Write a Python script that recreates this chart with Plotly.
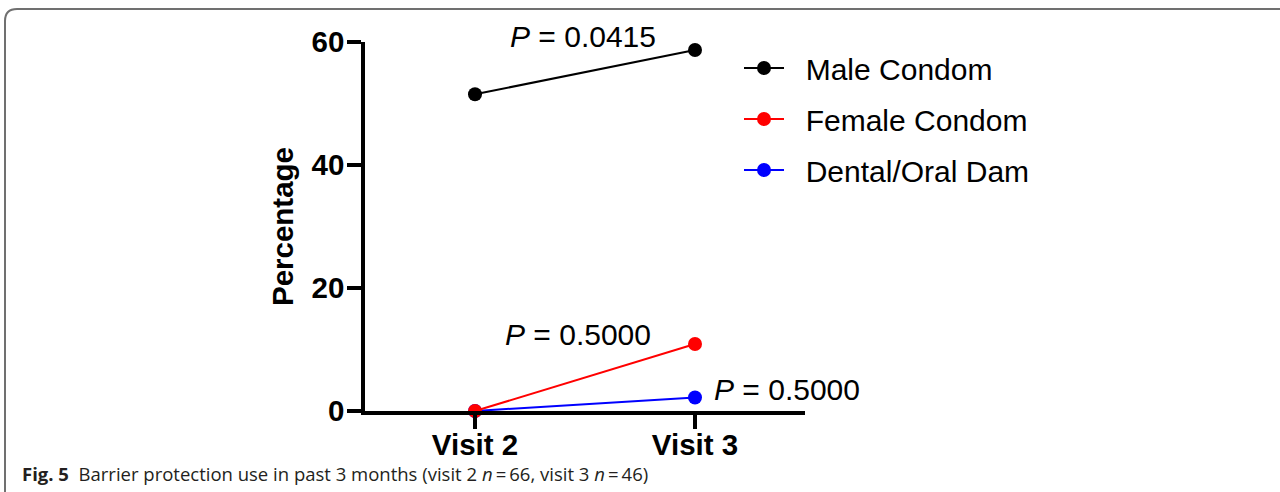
import plotly.graph_objects as go

visits = ["Visit 2", "Visit 3"]
male_condom = [51.5, 58.7]
female_condom = [0.0, 10.9]
dental_dam = [0.0, 2.2]
y_ticks = [0, 20, 40, 60]
p_labels = ["0.0415", "0.5000", "0.5000"]

W, H = 1280, 492
L, R, T, B = 365, 805, 42, 411.5
FONT = "Liberation Sans, Arial, Helvetica, sans-serif"

def px(xp):
    return (xp - L) / (R - L)

def py(yp):
    return (B - yp) / (B - T)

fig = go.Figure()

series = [
    ("Male Condom", male_condom, "black", 1),
    ("Dental/Oral Dam", dental_dam, "blue", 3),
    ("Female Condom", female_condom, "red", 2),
]
for name, vals, col, rank in series:
    fig.add_trace(go.Scatter(
        x=[0, 1], y=vals, name="&nbsp;&nbsp;" + name, mode="lines+markers",
        line=dict(color=col, width=2),
        marker=dict(color=col, size=14),
        cliponaxis=False, legendrank=rank, legendgroup=name,
    ))

ann_font = dict(family=FONT, size=30, color="black")
annotations = [
    dict(x=0.49, y=60, yshift=6, text="<i>P</i> = " + p_labels[0]),
    dict(x=0.466, y=12.4, text="<i>P</i> = " + p_labels[1]),
    dict(x=1.42, y=3.5, text="<i>P</i> = " + p_labels[2]),
]
for a in annotations:
    fig.add_annotation(xref="x", yref="y", showarrow=False, xanchor="center",
                       yanchor="middle", font=ann_font, **a)

fig.add_annotation(
    xref="paper", yref="paper", x=px(20), y=py(474), xanchor="left", yanchor="middle",
    showarrow=False, align="left",
    text=("<b>Fig. 5</b>  Barrier protection use in past 3 months "
          "(visit 2 <i>n</i>\u2009=\u200966, visit 3 <i>n</i>\u2009=\u200946)"),
    font=dict(family="Open Sans, Noto Sans, sans-serif", size=18.5, color="#231f20"),
)

# rounded frame around the figure panel
fig.add_shape(
    type="path", xref="paper", yref="paper",
    path=(f"M {px(5)},{py(520)} L {px(5)},{py(21)} "
          f"Q {px(5)},{py(9)} {px(17)},{py(9)} L {px(1300)},{py(9)}"),
    line=dict(color="#707070", width=2),
)

fig.update_layout(
    width=W, height=H,
    margin=dict(l=L, r=W - R, t=T, b=H - B, pad=0),
    paper_bgcolor="white", plot_bgcolor="white",
    showlegend=True,
    legend=dict(
        x=px(739), y=py(42), xanchor="left", yanchor="top",
        font=dict(family=FONT, size=30, color="black"),
        traceorder="grouped", tracegroupgap=9, itemwidth=40,
        bgcolor="rgba(0,0,0,0)",
    ),
    xaxis=dict(
        range=[-0.5, 1.5], tickvals=[0, 1], ticktext=visits,
        showline=True, linecolor="black", linewidth=3.5,
        ticks="outside", ticklen=14, tickwidth=3.5, tickcolor="black",
        ticklabelstandoff=-9,
        showgrid=False, zeroline=False,
        tickfont=dict(family=FONT, size=29.5, color="black", weight="bold"),
    ),
    yaxis=dict(
        range=[0, 60], tickvals=y_ticks,
        showline=True, linecolor="black", linewidth=3.5,
        ticks="outside", ticklen=14, tickwidth=3.5, tickcolor="black",
        ticklabelstandoff=-3,
        showgrid=False, zeroline=False,
        tickfont=dict(family=FONT, size=29.5, color="black", weight="bold"),
        title=dict(text="Percentage", standoff=10,
                   font=dict(family=FONT, size=29.5, color="black", weight="bold")),
    ),
)

fig.write_html("out.html", config={"displayModeBar": False},
               post_script="document.body.style.margin='0px';")
